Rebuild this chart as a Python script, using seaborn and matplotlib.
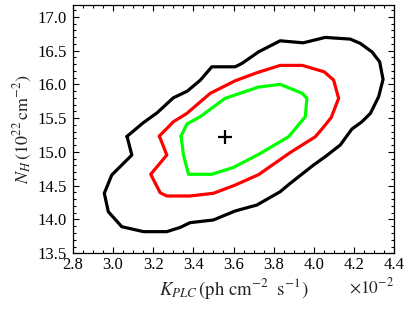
import numpy as np
import pandas as pd
import matplotlib
matplotlib.use("Agg")
import matplotlib.pyplot as plt
import matplotlib.ticker as ticker
import seaborn as sns

# contour vertices, K in units of 1e-2 ph cm^-2 s^-1, N_H in 1e22 cm^-2
k_outer = [3.07, 3.15, 3.22, 3.30, 3.37, 3.434, 3.492, 3.608, 3.642, 3.724, 3.832, 3.947,
           4.056, 4.181, 4.231, 4.289, 4.327, 4.344, 4.322, 4.281, 4.239, 4.189, 4.131,
           4.056, 3.998, 3.882, 3.832, 3.716, 3.608, 3.500, 3.384, 3.334, 3.268, 3.152,
           3.044, 2.977, 2.957, 2.994, 3.094]
nh_outer = [15.23, 15.43, 15.58, 15.80, 15.90, 16.06, 16.26, 16.26, 16.31, 16.48, 16.645,
            16.615, 16.695, 16.67, 16.606, 16.48, 16.334, 16.074, 15.817, 15.571, 15.447,
            15.339, 15.102, 14.929, 14.806, 14.535, 14.411, 14.214, 14.126, 13.993, 13.953,
            13.882, 13.82, 13.82, 13.893, 14.115, 14.388, 14.658, 14.954]

k_mid = [3.231, 3.301, 3.368, 3.484, 3.608, 3.716, 3.832, 3.942, 4.051, 4.098, 4.123,
         4.086, 4.044, 4.007, 3.882, 3.724, 3.603, 3.500, 3.384, 3.268, 3.235, 3.188, 3.268]
nh_mid = [15.235, 15.447, 15.571, 15.867, 16.053, 16.172, 16.281, 16.281, 16.186, 16.064,
          15.793, 15.509, 15.354, 15.225, 14.991, 14.663, 14.503, 14.388, 14.348, 14.348,
          14.396, 14.669, 14.954]

k_inner = [3.339, 3.368, 3.434, 3.558, 3.724, 3.832, 3.942, 3.965, 3.957, 3.874, 3.728,
           3.598, 3.492, 3.376, 3.351]
nh_inner = [15.235, 15.413, 15.521, 15.793, 15.96, 16.0, 15.867, 15.793, 15.521, 15.225,
            14.969, 14.769, 14.669, 14.669, 14.954]

best_k = [3.558]
best_nh = [15.225]

levels = ["outer", "mid", "inner"]
colors = ["black", "#ff0000", "#00ff00"]

frames = []
for name, kx, ny in [("outer", k_outer, nh_outer), ("mid", k_mid, nh_mid), ("inner", k_inner, nh_inner)]:
    kx = np.append(kx, kx[0])
    ny = np.append(ny, ny[0])
    frames.append(pd.DataFrame({"k": kx, "nh": ny, "level": name}))
df = pd.concat(frames, ignore_index=True)

sns.set_style("ticks")
plt.rcParams["font.family"] = ["Liberation Serif", "DejaVu Serif"]
plt.rcParams["mathtext.fontset"] = "stix"

fig = plt.figure(figsize=(4.11, 3.10), dpi=100)
ax = fig.add_axes([0.177, 0.183, 0.9594 - 0.177, 0.985 - 0.183])

sns.lineplot(data=df, x="k", y="nh", hue="level", hue_order=levels, palette=colors,
             sort=False, estimator=None, units="level", legend=False, lw=2.3, ax=ax)
ax.plot(best_k, best_nh, "k+", ms=10, mew=1.6)

ax.set_xlim(2.8, 4.4)
ax.set_ylim(13.5, 17.18)
ax.xaxis.set_major_locator(ticker.MultipleLocator(0.2))
ax.xaxis.set_minor_locator(ticker.MultipleLocator(0.05))
ax.yaxis.set_major_locator(ticker.MultipleLocator(0.5))
ax.yaxis.set_minor_locator(ticker.MultipleLocator(0.1))
ax.xaxis.set_major_formatter(ticker.FormatStrFormatter("%.1f"))
ax.yaxis.set_major_formatter(ticker.FormatStrFormatter("%.1f"))
ax.tick_params(which="both", direction="in", top=True, right=True, width=0.8, colors="black")
ax.tick_params(which="major", length=4.5, labelsize=12)
ax.tick_params(which="minor", length=2.2)
ax.tick_params(axis="x", pad=2.5)
ax.tick_params(axis="y", pad=4)
for s in ax.spines.values():
    s.set_linewidth(0.9)
    s.set_color("black")

ax.set_xlabel(r"$K_{PLC}\,(\mathrm{ph\ cm^{-2}\ \ s^{-1}})$", fontsize=13.5, labelpad=2.5)
ax.set_ylabel(r"$N_H\,(10^{22}\,\mathrm{cm}^{-2})$", fontsize=13, labelpad=3)
ax.text(0.928, -0.097, r"$\times10^{-2}$", transform=ax.transAxes, ha="center", va="top", fontsize=12.5)

fig.savefig("out.png", dpi=100)
